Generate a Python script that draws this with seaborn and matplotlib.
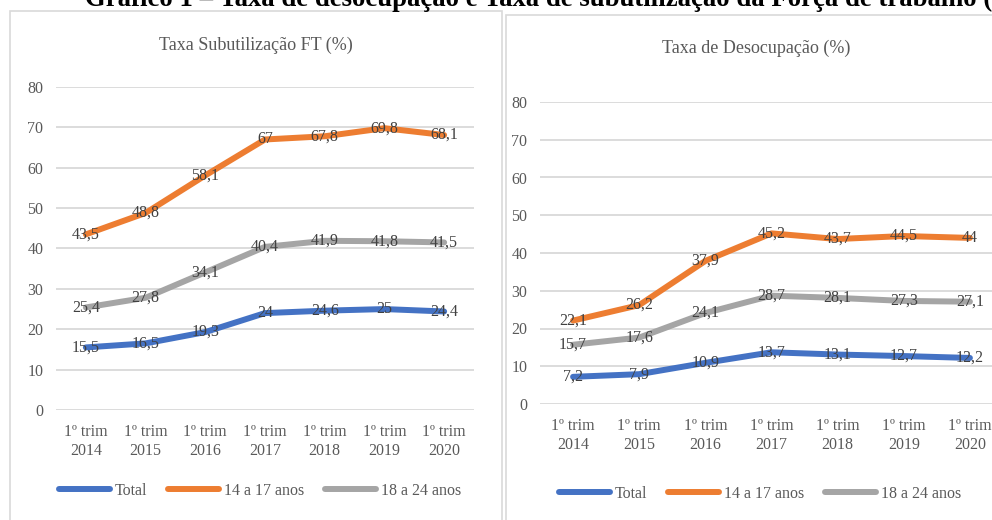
import matplotlib
matplotlib.use("Agg")
import matplotlib.pyplot as plt
from matplotlib.patches import Rectangle
from matplotlib.lines import Line2D
import pandas as pd
import seaborn as sns

# dados
trimestres = ["1º trim\n2014", "1º trim\n2015", "1º trim\n2016", "1º trim\n2017",
              "1º trim\n2018", "1º trim\n2019", "1º trim\n2020"]
series = ["Total", "14 a 17 anos", "18 a 24 anos"]

subutil_total = [15.5, 16.5, 19.3, 24, 24.6, 25, 24.4]
subutil_14_17 = [43.5, 48.8, 58.1, 67, 67.8, 69.8, 68.1]
subutil_18_24 = [25.4, 27.8, 34.1, 40.4, 41.9, 41.8, 41.5]

desocup_total = [7.2, 7.9, 10.9, 13.7, 13.1, 12.7, 12.2]
desocup_14_17 = [22.1, 26.2, 37.9, 45.2, 43.7, 44.5, 44]
desocup_18_24 = [15.7, 17.6, 24.1, 28.7, 28.1, 27.3, 27.1]

cores = {"Total": "#4472C4", "14 a 17 anos": "#ED7D31", "18 a 24 anos": "#A5A5A5"}


def monta(total, a, b):
    linhas = []
    for nome, vals in zip(series, [total, a, b]):
        for t, v in zip(trimestres, vals):
            linhas.append({"trim": t, "valor": v, "serie": nome})
    return pd.DataFrame(linhas)


df_sub = monta(subutil_total, subutil_14_17, subutil_18_24)
df_des = monta(desocup_total, desocup_14_17, desocup_18_24)

sns.set_style("white")
plt.rcParams["font.family"] = ["Liberation Serif", "DejaVu Serif"]

fig = plt.figure(figsize=(9.92, 5.2), dpi=100)
W, H = 992, 520


def fx(px):
    return px / W


def fy(py):
    return 1 - py / H


# molduras dos dois graficos
fig.patches.append(Rectangle((fx(10), fy(530)), fx(492), fy(11) - fy(530),
                             transform=fig.transFigure, fill=False,
                             edgecolor="#d9d9d9", lw=1.2))
fig.patches.append(Rectangle((fx(506), fy(530)), fx(500), fy(15) - fy(530),
                             transform=fig.transFigure, fill=False,
                             edgecolor="#d9d9d9", lw=1.2))

# titulo geral (cortado no topo, como no original)
fig.text(fx(85), fy(6.5), "Gráfico 1 – Taxa de desocupação e Taxa de subutilização da Força de trabalho (",
         fontsize=19.3, fontweight="bold", ha="left", va="baseline", color="black")


def painel(df, rect, titulo, tx, ty, leg_x, leg_y):
    ax = fig.add_axes(rect)
    sns.lineplot(data=df, x="trim", y="valor", hue="serie", palette=cores,
                 linewidth=4.3, sort=False, ax=ax, legend=False)
    for ln in ax.lines:
        ln.set_solid_capstyle("round")
        ln.set_solid_joinstyle("round")
    for _, r in df.iterrows():
        xi = trimestres.index(r["trim"])
        txt = f"{r['valor']:g}".replace(".", ",")
        ax.text(xi, r["valor"], txt, ha="center", va="center",
                fontsize=11.5, color="#404040", zorder=5)
    ax.set_xlim(-0.5, 6.5)
    ax.set_ylim(0, 80)
    ax.set_yticks(range(0, 81, 10))
    ax.set_xlabel("")
    ax.set_ylabel("")
    ax.yaxis.grid(True, color="#d9d9d9", lw=1.3)
    ax.set_axisbelow(True)
    sns.despine(ax=ax, left=True, bottom=True)
    ax.tick_params(axis="both", length=0, labelsize=11.5, labelcolor="#595959")
    ax.tick_params(axis="y", pad=9)
    ax.tick_params(axis="x", pad=10)
    for lab in ax.get_xticklabels():
        lab.set_linespacing(1.25)
    fig.text(tx, ty, titulo, ha="center", va="center", fontsize=13, color="#595959")
    handles = [Line2D([0], [0], color=cores[s], lw=4.3, solid_capstyle="round") for s in series]
    fig.legend(handles, series, loc="center", bbox_to_anchor=(leg_x, leg_y),
               ncol=3, frameon=False, fontsize=11.5, handlelength=3.2,
               handletextpad=0.3, columnspacing=1.3, labelcolor="#595959")
    return ax


painel(df_sub, [fx(56), fy(410), fx(418), fy(87) - fy(410)],
       "Taxa Subutilização FT (%)", fx(256), fy(45), fx(260), fy(491))
painel(df_des, [fx(540), fy(404), fx(463), fy(102) - fy(404)],
       "Taxa de Desocupação (%)", fx(756), fy(48), fx(760), fy(494))

fig.savefig("out.png", dpi=100)
